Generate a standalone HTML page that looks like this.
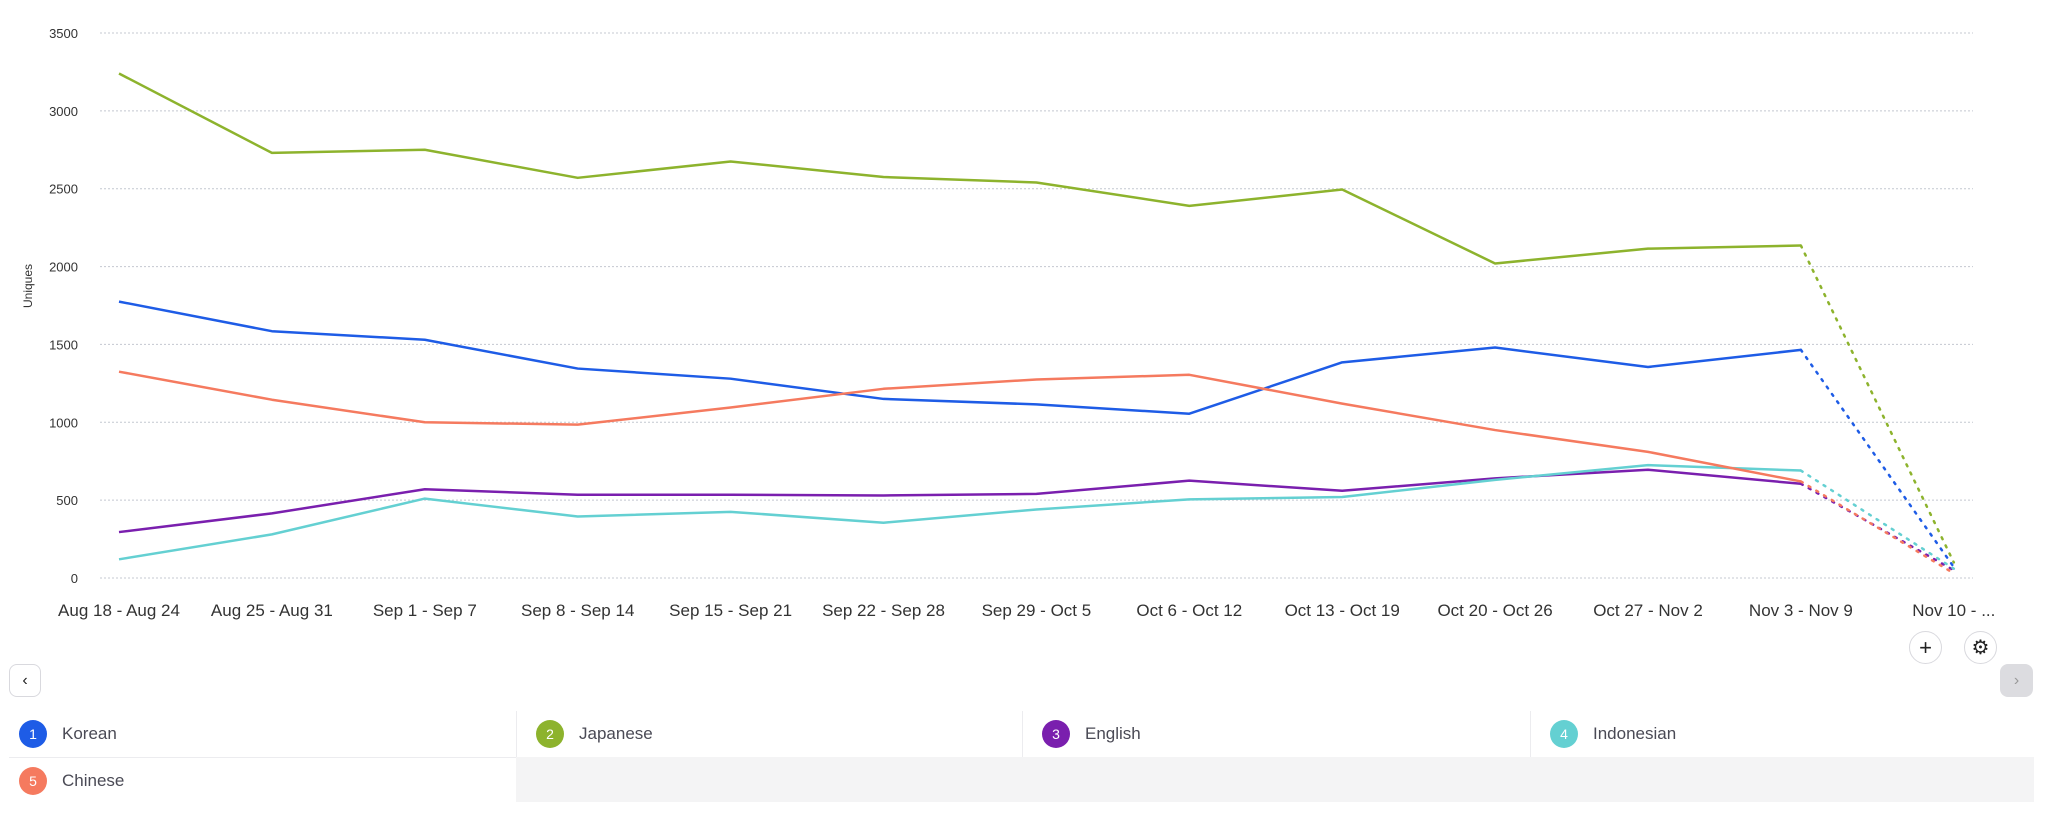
<!DOCTYPE html>
<html><head><meta charset="utf-8"><style>
body{margin:0;width:2048px;height:819px;background:#fff;font-family:"Liberation Sans",sans-serif;overflow:hidden;position:relative}
.btn{position:absolute;border:1px solid #d9d9de;background:#fff;border-radius:8px;box-sizing:border-box;display:flex;align-items:center;justify-content:center;color:#222}
.leg{position:absolute;height:46px;display:flex;align-items:center;font-size:17px;color:#4a4a55;box-sizing:border-box}
.dot{width:28px;height:28px;border-radius:50%;color:#fff;font-size:14px;display:flex;align-items:center;justify-content:center;margin-left:19px;margin-right:15px}
</style></head><body>
<svg id="chart" width="2048" height="650" style="position:absolute;left:0;top:0"></svg>
<div class="btn" style="left:1909px;top:631px;width:33px;height:33px;border-radius:50%;font-size:22px">+</div>
<div class="btn" style="left:1964px;top:631px;width:33px;height:33px;border-radius:50%;font-size:20px">⚙</div>
<div class="btn" style="left:9px;top:664px;width:32px;height:33px;font-size:16px">‹</div>
<div class="btn" style="left:2000px;top:664px;width:33px;height:33px;background:#dcdce0;border:none;color:#999;font-size:16px">›</div>
<div style="position:absolute;left:516px;top:757px;width:1518px;height:45px;background:#f4f4f5"></div>
<div style="position:absolute;left:9px;top:757px;width:507px;height:1px;background:#ececef"></div>
<div class="leg" style="left:0;top:711px;width:516px"><div class="dot" style="background:#1e5ce6">1</div>Korean</div>
<div class="leg" style="left:516px;top:711px;width:507px;border-left:1px solid #ececef"><div class="dot" style="background:#8db32d">2</div>Japanese</div>
<div class="leg" style="left:1022px;top:711px;width:508px;border-left:1px solid #ececef"><div class="dot" style="background:#7a1fae">3</div>English</div>
<div class="leg" style="left:1530px;top:711px;width:504px;border-left:1px solid #ececef"><div class="dot" style="background:#64d0d2">4</div>Indonesian</div>
<div class="leg" style="left:0;top:758px;width:516px"><div class="dot" style="background:#f57a5f">5</div>Chinese</div>
<script>
const categories=["Aug 18 - Aug 24","Aug 25 - Aug 31","Sep 1 - Sep 7","Sep 8 - Sep 14","Sep 15 - Sep 21","Sep 22 - Sep 28","Sep 29 - Oct 5","Oct 6 - Oct 12","Oct 13 - Oct 19","Oct 20 - Oct 26","Oct 27 - Nov 2","Nov 3 - Nov 9","Nov 10 - ..."];
const yTicks=[0,500,1000,1500,2000,2500,3000,3500];
const seriesNames=["Korean","Japanese","English","Indonesian","Chinese"];
const seriesColors=["#1e5ce6","#8db32d","#7a1fae","#64d0d2","#f57a5f"];
const korean=[1775,1585,1530,1345,1280,1150,1115,1055,1385,1480,1355,1465,70];
const japanese=[3240,2730,2750,2570,2675,2575,2540,2390,2495,2020,2115,2135,100];
const english=[295,415,570,535,535,530,540,625,560,640,695,605,50];
const indonesian=[120,280,510,395,425,355,440,505,520,630,725,690,60];
const chinese=[1325,1145,1000,985,1095,1215,1275,1305,1120,950,810,620,30];
const seriesData=[korean,japanese,english,indonesian,chinese];
const NS="http://www.w3.org/2000/svg",svg=document.getElementById('chart');
const x=i=>119+i*152.9, y=v=>578-v*(545/3500);
function mk(t,a){const e=document.createElementNS(NS,t);for(const k in a)e.setAttribute(k,a[k]);svg.appendChild(e);return e;}
yTicks.forEach(t=>{
 const g=mk('line',{x1:100,x2:1973,y1:y(t),y2:y(t),stroke:'#c4c8d0','stroke-dasharray':'2 2'});
 
 
 const l=mk('text',{x:78,y:y(t)+5,'text-anchor':'end','font-size':13,fill:'#333'});l.textContent=t;
 
 
});
const yt=mk('text',{transform:'translate(32,286) rotate(-90)','text-anchor':'middle','font-size':12,fill:'#333'});yt.textContent='Uniques';


categories.forEach((c,i)=>{
 const l=mk('text',{x:x(i),y:616,'text-anchor':'middle','font-size':17,fill:'#333'});l.textContent=c;
 
 
});
seriesData.forEach((d,s)=>{
 const n=d.length;
 const pts=d.slice(0,n-1).map((v,i)=>x(i)+','+y(v)).join(' ');
 const p=mk('polyline',{points:pts,fill:'none',stroke:seriesColors[s],'stroke-width':2.5,'stroke-linejoin':'round'});
 
 
 const dl=mk('line',{x1:x(n-2),y1:y(d[n-2]),x2:x(n-1),y2:y(d[n-1]),stroke:seriesColors[s],'stroke-width':2.5,'stroke-dasharray':'2 7','stroke-linecap':'round'});
 
 
});
</script>
</body></html>
